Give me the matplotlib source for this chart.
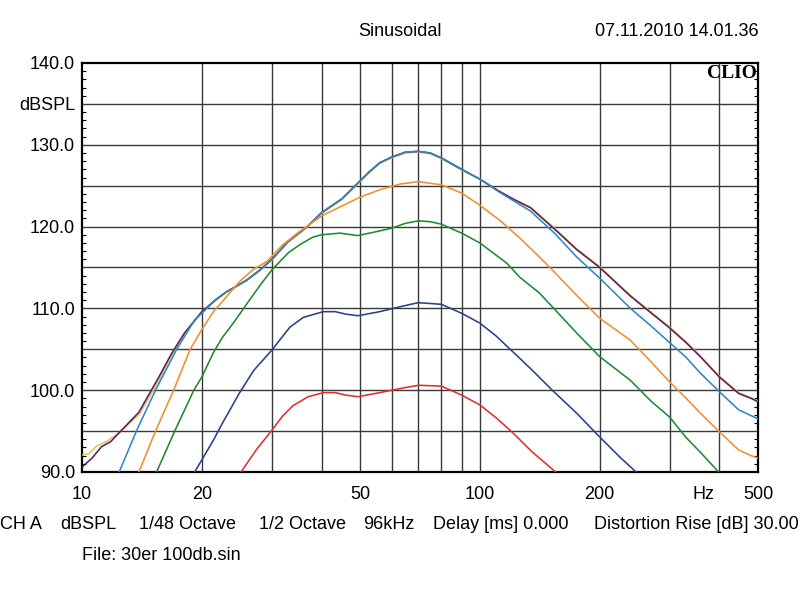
import numpy as np
from matplotlib import pyplot as plt
from matplotlib.ticker import FixedLocator, MultipleLocator

plt.rcParams['font.family'] = ['Liberation Sans', 'DejaVu Sans']

# curves (Hz, dBSPL)
f_purple = [10, 10.6, 11.2, 11.8, 12.4, 13.1, 13.9, 14.7, 15.6, 16.8, 18.1, 20, 21.6, 23, 24.2, 26, 28, 30, 33, 36.8,
            40, 45, 50, 53, 56, 60, 65, 70, 75, 80, 90, 100, 112, 122, 134, 154, 175, 200, 239, 270, 300, 330,
            358, 400, 447, 480, 500]
db_purple = [90.6, 91.7, 93.1, 93.7, 94.8, 96.0, 97.3, 99.4, 101.6, 104.5, 107.0, 109.6, 111.0, 112.0, 112.6, 113.5, 114.7, 116.0, 118.2, 120.0,
             121.7, 123.4, 125.6, 126.8, 127.8, 128.5, 129.1, 129.2, 129.0, 128.4, 127.0, 125.8, 124.3, 123.3, 122.3, 119.7, 117.2, 115.0, 111.5, 109.4, 107.6, 105.8,
             104.1, 101.6, 99.6, 99.0, 98.6]

f_yellow = [10, 10.4, 10.9, 11.5, 12.4, 13.1, 13.9, 14.7, 15.6, 16.8, 18.1, 20, 21.6, 23, 24.2, 26, 28, 30, 33, 36.8,
            40, 45, 50, 53, 56, 60, 65, 70, 75, 80, 90, 100, 112, 122, 134, 154, 175, 200, 239, 270, 300, 330,
            358, 400, 447, 480, 500]
db_yellow = [92.1, 92.2, 93.2, 93.7, 94.8, 95.9, 97.0, 99.0, 101.2, 104.3, 106.9, 109.5, 110.9, 111.9, 112.5, 113.4, 114.6, 115.9, 118.1, 119.9,
             121.6, 123.3, 125.5, 126.7, 127.7, 128.4, 129.0, 129.1, 128.9, 128.3, 126.9, 125.8, 124.3, 123.3, 122.4, 119.8, 117.3, 115.1, 111.6, 109.5, 107.7, 105.9,
             104.2, 101.7, 99.7, 99.1, 98.7]

f_blue = [12.4, 13.7, 15.3, 17.3, 19.2, 20, 21.6, 23, 24.2, 26, 28, 30, 33, 36.8,
          40, 45, 50, 53, 56, 60, 65, 70, 75, 80, 90, 100, 112, 122, 134, 154, 175, 200, 239, 270, 300, 330,
          358, 400, 447, 480, 500]
db_blue = [90.0, 95.0, 100.0, 105.0, 108.6, 109.4, 111.0, 112.0, 112.6, 113.5, 114.7, 116.0, 118.2, 120.0,
           121.7, 123.4, 125.6, 126.8, 127.8, 128.5, 129.1, 129.2, 129.0, 128.4, 127.0, 125.8, 124.2, 123.1, 121.9, 119.2, 116.3, 113.7, 110.0, 107.8, 105.8, 104.0,
           102.1, 99.8, 97.6, 96.9, 96.5]

f_orange = [13.9, 15.3, 17.0, 18.7, 20, 21.4, 22.5, 24.9, 27, 29.1, 32, 35, 40, 44.5, 50, 56, 63, 70, 80, 90, 100, 112,
            126, 141, 152, 175, 200, 239, 270, 300, 330, 358, 400, 447, 480, 500]
db_orange = [90.0, 95.0, 100.0, 105.0, 107.4, 109.6, 110.8, 113.3, 114.8, 115.7, 117.8, 119.3, 121.3, 122.4, 123.6, 124.5, 125.2, 125.5, 125.1, 124.1, 122.6, 120.8,
             118.6, 116.3, 114.7, 111.6, 108.8, 106.1, 103.4, 101.0, 99.0, 97.2, 94.9, 92.7, 92.0, 91.7]

f_green = [15.4, 17.1, 19.1, 20, 21.4, 22.5, 24, 26, 28, 30, 33, 35.3, 38, 40, 44.5, 49.3, 54, 60, 65, 70, 75, 80, 90, 100,
           117, 126, 141, 152, 175, 200, 239, 270, 300, 330, 360, 398]
db_green = [90.0, 95.0, 100.0, 101.6, 104.6, 106.4, 108.2, 110.6, 112.8, 114.7, 116.8, 117.8, 118.7, 119.0, 119.2, 118.9, 119.3, 119.8, 120.4, 120.7, 120.6, 120.3, 119.2, 118.0,
            115.5, 113.8, 111.9, 110.2, 107.0, 104.1, 101.2, 98.6, 96.7, 94.2, 92.3, 90.0]

f_navy = [19.2, 21.4, 22.5, 24.9, 27, 30, 33.3, 36, 40.4, 43.3, 46, 49.4, 56, 63, 70, 80, 90, 100, 110, 121, 135, 152,
          175, 198, 225, 247]
db_navy = [90.0, 93.9, 95.9, 99.7, 102.4, 104.9, 107.7, 108.9, 109.6, 109.6, 109.3, 109.1, 109.6, 110.2, 110.7, 110.5, 109.4, 108.2, 106.6, 104.7, 102.5, 100.0,
           97.2, 94.5, 91.8, 90.0]

f_red = [25.1, 27.5, 30, 32, 33.9, 37, 40.4, 43.3, 46, 49.4, 56, 63, 70, 80, 90, 100, 110, 121, 135, 155]
db_red = [90.0, 92.8, 95.1, 96.9, 98.1, 99.2, 99.7, 99.7, 99.4, 99.2, 99.7, 100.2, 100.6, 100.5, 99.4, 98.2, 96.6, 94.8, 92.5, 90.0]

curves = [
    (f_yellow, db_yellow, '#d9cb55'),
    (f_purple, db_purple, '#5e1d5e'),
    (f_blue, db_blue, '#2f88c4'),
    (f_orange, db_orange, '#f08f2e'),
    (f_green, db_green, '#1f8a2e'),
    (f_navy, db_navy, '#2b3f8f'),
    (f_red, db_red, '#e0302c'),
]

x_grid = [20, 30, 40, 50, 60, 70, 80, 90, 100, 200, 300, 400]
x_ticks = [10, 20, 50, 100, 200, 365, 500]
x_labels = ['10', '20', '50', '100', '200', 'Hz', '500']
y_ticks = [90, 95, 100, 105, 110, 115, 120, 125, 130, 135, 140]
y_labels = ['90.0', '', '100.0', '', '110.0', '', '120.0', '', '130.0', 'dBSPL', '140.0']

footer = [(0.0, 'CH A'), (60, 'dBSPL'), (139, '1/48 Octave'), (259, '1/2 Octave'), (363, '96kHz'),
          (433, 'Delay [ms] 0.000'), (594, 'Distortion Rise [dB] 30.00')]

fig = plt.figure(figsize=(8, 5.97), dpi=100)
ax = fig.add_axes([0.1025, 0.2094, 0.845, 0.6851])

for f, db, c in curves:
    ax.plot(f, db, color=c, lw=1.15, zorder=3)

ax.set_xscale('log')
ax.set_xlim(10, 500)
ax.set_ylim(90, 140)

for xv in x_grid:
    ax.axvline(xv, color='#3a3a3a', lw=1.0, zorder=1)
for yv in y_ticks[1:-1]:
    ax.axhline(yv, color='#3a3a3a', lw=1.0, zorder=1)

ax.xaxis.set_major_locator(FixedLocator(x_ticks))
ax.xaxis.set_minor_locator(FixedLocator([]))
ax.set_xticklabels(x_labels)
ax.tick_params(axis='x', length=0, pad=10, labelsize=13)

ax.yaxis.set_major_locator(FixedLocator(y_ticks))
ax.set_yticklabels(y_labels)
ax.yaxis.set_minor_locator(MultipleLocator(1))
ax.tick_params(axis='y', which='major', length=0, pad=5, labelsize=13)
ax.tick_params(axis='y', which='minor', direction='in', length=3, width=0.8, left=True, right=True)

for s in ax.spines.values():
    s.set_linewidth(1.6)
    s.set_color('black')

ax.text(0.998, 0.995, 'CLIO', transform=ax.transAxes, ha='right', va='top',
        fontsize=14, fontweight='bold', family=['Liberation Serif', 'DejaVu Serif'])

fig.text(0.5, 0.948, 'Sinusoidal', ha='center', va='center', fontsize=13)
fig.text(0.948, 0.948, '07.11.2010 14.01.36', ha='right', va='center', fontsize=13)
for px, txt in footer:
    fig.text(px / 800, 0.122, txt, ha='left', va='center', fontsize=13)
fig.text(0.1025, 0.069, 'File: 30er 100db.sin', ha='left', va='center', fontsize=13)

fig.savefig('out.png', dpi=100, facecolor='white')
